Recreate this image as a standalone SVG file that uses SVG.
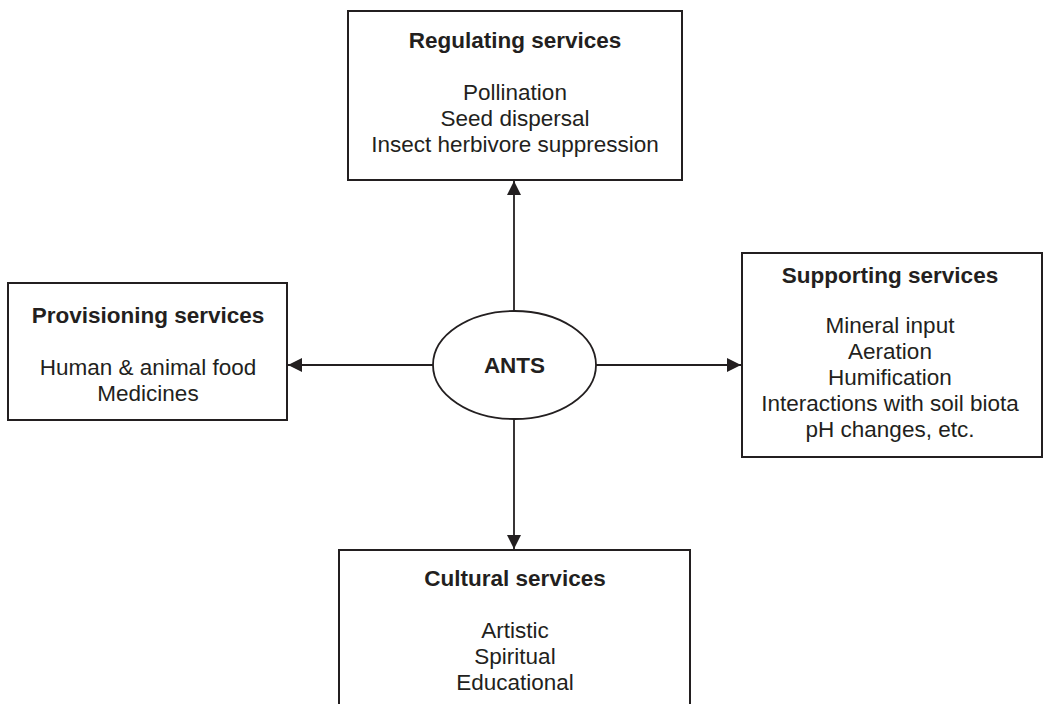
<svg xmlns="http://www.w3.org/2000/svg" width="1046" height="704" viewBox="0 0 1046 704">
<style>
.box{fill:#fff;stroke:#231f20;stroke-width:2}
.t{font-family:"Liberation Sans",Arial,sans-serif;font-size:22.5px;fill:#231f20;text-anchor:middle}
.b{font-weight:bold}
.c{stroke:#231f20;stroke-width:1.8;fill:none;marker-end:url(#ah)}
</style>
<defs>
<marker id="ah" viewBox="0 0 14 14" refX="14" refY="7" markerWidth="14" markerHeight="14" markerUnits="userSpaceOnUse" orient="auto">
<path d="M0,0 L14,7 L0,14 Z" fill="#231f20"/>
</marker>
</defs>
<rect width="1046" height="704" fill="#fff"/>
<g id="connectors">
<line class="c" x1="514" y1="311" x2="514" y2="181"/>
<line class="c" x1="514" y1="419" x2="514" y2="549"/>
<line class="c" x1="433" y1="365" x2="288" y2="365"/>
<line class="c" x1="596" y1="365" x2="741" y2="365"/>
</g>
<g id="regulating">
<rect class="box" x="348" y="11" width="334" height="169"/>
<text class="t b" x="515" y="48">Regulating services</text>
<text class="t" x="515" y="100">Pollination</text>
<text class="t" x="515" y="126">Seed dispersal</text>
<text class="t" x="515" y="152">Insect herbivore suppression</text>
</g>
<g id="provisioning">
<rect class="box" x="8" y="283" width="279" height="137"/>
<text class="t b" x="148" y="323">Provisioning services</text>
<text class="t" x="148" y="375">Human &amp; animal food</text>
<text class="t" x="148" y="401">Medicines</text>
</g>
<g id="ants">
<ellipse cx="514.5" cy="365" rx="81.5" ry="54" fill="#fff" stroke="#231f20" stroke-width="1.8"/>
<text class="t b" x="514.5" y="373">ANTS</text>
</g>
<g id="supporting">
<rect class="box" x="742" y="253" width="300" height="204"/>
<text class="t b" x="890" y="283">Supporting services</text>
<text class="t" x="890" y="333">Mineral input</text>
<text class="t" x="890" y="359">Aeration</text>
<text class="t" x="890" y="385">Humification</text>
<text class="t" x="890" y="411">Interactions with soil biota</text>
<text class="t" x="890" y="437">pH changes, etc.</text>
</g>
<g id="cultural">
<rect class="box" x="339" y="550" width="351" height="170"/>
<text class="t b" x="515" y="586">Cultural services</text>
<text class="t" x="515" y="638">Artistic</text>
<text class="t" x="515" y="664">Spiritual</text>
<text class="t" x="515" y="690">Educational</text>
</g>
</svg>
